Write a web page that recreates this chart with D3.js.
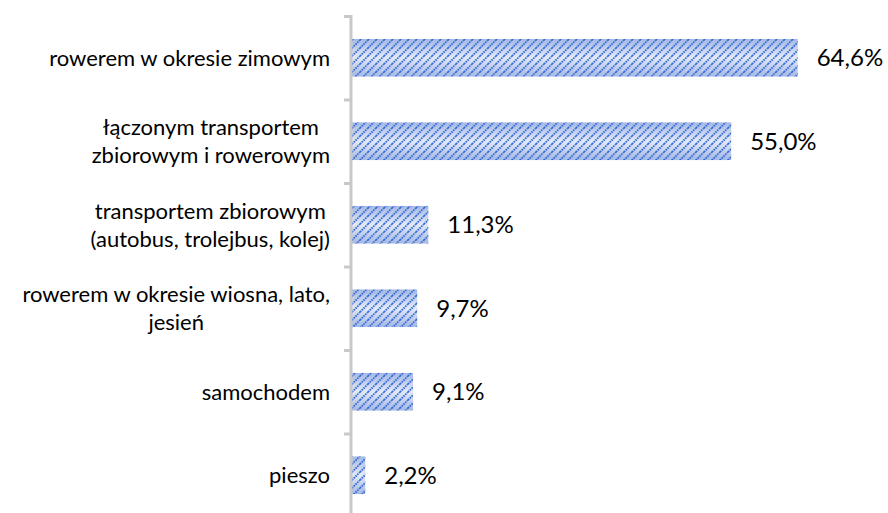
<!DOCTYPE html>
<html>
<head>
<meta charset="utf-8">
<script src="https://cdn.jsdelivr.net/npm/d3@7"></script>
<style>
  body { margin: 0; background: #fff; }
  text { font-family: Lato, "Open Sans", sans-serif; fill: #000; }
</style>
</head>
<body>
<div id="chart"></div>
<script>
const width = 888;
const height = 513;

// categories, top to bottom, split into lines as in the picture
const categories = [
    ['rowerem w okresie zimowym'],
    ['łączonym transportem', 'zbiorowym i rowerowym'],
    ['transportem zbiorowym', '(autobus, trolejbus, kolej)'],
    ['rowerem w okresie wiosna, lato,', 'jesień'],
    ['samochodem'],
    ['pieszo']
];
const values = [64.6, 55.0, 11.3, 9.7, 9.1, 2.2];
const valueLabels = ['64,6%', '55,0%', '11,3%', '9,7%', '9,1%', '2,2%'];

const axisX = 351;
const labelRight = 330;

const svg = d3.select('#chart')
    .append('svg')
    .attr('width', width)
    .attr('height', height);

const defs = svg.append('defs');

// striped fill: light blue gradient with dotted diagonal blue lines
const grad = defs.append('linearGradient')
    .attr('id', 'barGrad')
    .attr('x1', 0).attr('y1', 0).attr('x2', 0).attr('y2', 1);
grad.append('stop').attr('offset', '0%').attr('stop-color', '#a3b8e4');
grad.append('stop').attr('offset', '50%').attr('stop-color', '#e2e9f8');
grad.append('stop').attr('offset', '100%').attr('stop-color', '#a3b8e4');

const pattern = defs.append('pattern')
    .attr('id', 'stripes')
    .attr('patternUnits', 'userSpaceOnUse')
    .attr('width', 8)
    .attr('height', 8);
pattern.append('path')
    .attr('d', 'M-2 2 L2 -2 M0 8 L8 0 M6 10 L10 6')
    .attr('stroke', '#3a6bd4')
    .attr('stroke-width', 1.9)
    .attr('stroke-dasharray', '1.6 0.9');

const x = d3.scaleLinear()
    .domain([0, 100])
    .range([axisX - 1, axisX - 1 + 693]);

const y = d3.scaleBand()
    .domain(d3.range(categories.length))
    .range([16, 517])
    .paddingInner(0.55)
    .paddingOuter(0.275);

const step = y.step();
const bandTop = i => y(i) - y.paddingInner() * step / 2;

// BARS
const bars = svg.append('g').selectAll('g.bar')
    .data(values)
    .enter()
    .append('g')
    .classed('bar', true);

bars.append('rect')
    .attr('x', x(0))
    .attr('y', (d, i) => y(i))
    .attr('width', d => x(d) - x(0))
    .attr('height', y.bandwidth())
    .attr('fill', 'url(#barGrad)');

bars.append('rect')
    .attr('x', x(0))
    .attr('y', (d, i) => y(i))
    .attr('width', d => x(d) - x(0))
    .attr('height', y.bandwidth())
    .attr('fill', 'url(#stripes)');

// AXIS
const axis = svg.append('g');
axis.append('path')
    .attr('d', `M${axisX} 15 V${height}`)
    .attr('stroke', '#c8c8c8')
    .attr('stroke-width', 3)
    .attr('fill', 'none');

axis.selectAll('.tick')
    .data(d3.range(categories.length + 1))
    .enter()
    .append('path')
    .attr('d', i => `M${axisX - 7} ${bandTop(i) + 0.5} H${axisX}`)
    .attr('stroke', '#c8c8c8')
    .attr('stroke-width', 3);

// VALUE LABELS
svg.append('g').selectAll('text')
    .data(values)
    .enter()
    .append('text')
    .attr('x', d => x(d) + 19)
    .attr('y', (d, i) => y(i) + y.bandwidth() / 2)
    .attr('dy', '0.36em')
    .attr('font-size', 24)
    .text((d, i) => valueLabels[i]);

// CATEGORY LABELS
const lineHeight = 28;
const labels = svg.append('g').selectAll('g.label')
    .data(categories)
    .enter()
    .append('g')
    .classed('label', true);

labels.each(function (lines, i) {
    const g = d3.select(this);
    const cy = y(i) + y.bandwidth() / 2;
    const texts = g.selectAll('text')
        .data(lines)
        .enter()
        .append('text')
        .attr('font-size', 22)
        .attr('text-anchor', 'middle')
        .attr('y', (d, j) => cy + (j - (lines.length - 1) / 2) * lineHeight)
        .attr('dy', '0.36em')
        .text(d => d);
    let maxW = 0;
    texts.each(function () { maxW = Math.max(maxW, this.getComputedTextLength()); });
    texts.attr('x', labelRight - maxW / 2);
});
</script>
</body>
</html>
